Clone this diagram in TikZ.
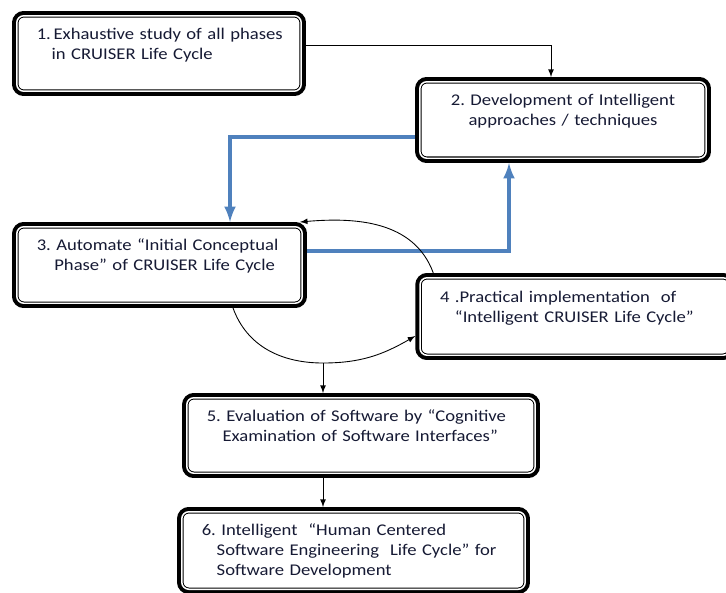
\documentclass[tikz,border=0pt]{standalone}
\usepackage{fontspec}
\setmainfont[FakeStretch=1.14]{Carlito}
\usepackage{tikz}

\definecolor{stepblue}{RGB}{79,129,189}
\definecolor{steptext}{RGB}{22,26,52}
\newcommand{\indline}[1]{\hspace*{#1}}
\frenchspacing

\begin{document}
\begin{tikzpicture}[x=0.02cm,y=-0.02cm,>=latex,
    stepbox/.style={draw,rounded corners=4pt,fill=white,
        preaction={draw,line width=5.4pt},
        line width=0.57pt,double=white,double distance=0.85pt,
        outer sep=2.7pt,inner xsep=0.4cm,inner ysep=0pt,
        font=\fontsize{9.3}{11.4}\selectfont,text=steptext},
    flow/.style={->,line width=0.5pt,black},
    bluflow/.style={->,line width=2pt,stepblue}]
    \useasboundingbox (0,0) rectangle (726,592);

    \node[stepbox,minimum width=5.69cm,minimum height=1.51cm,text width=4.89cm,align=left] (n1) at (159,53.5)
        {\mbox{1.\,Exhaustive study of all phases}\\ \indline{8.5pt}in CRUISER Life Cycle\\ \mbox{}};
    \node[stepbox,minimum width=5.73cm,minimum height=1.53cm,text width=4.93cm,align=center] (n2) at (563,120)
        {2. Development of Intelligent\\ approaches / techniques\\ \mbox{}};
    \node[stepbox,minimum width=5.71cm,minimum height=1.53cm,text width=4.91cm,align=left] (n3) at (159.5,265)
        {3. Automate ``Initial Conceptual\\ \indline{10pt}Phase'' of CRUISER Life Cycle\\ \mbox{}};
    \node[stepbox,minimum width=6.2cm,minimum height=1.55cm,text width=5.4cm,align=left] (n4) at (575,316.5)
        {4 .Practical implementation\ \ of\\ \indline{8.5pt}``Intelligent CRUISER Life Cycle''\\ \mbox{}};
    \node[stepbox,minimum width=6.97cm,minimum height=1.51cm,text width=6.17cm,align=left] (n5) at (361,435.5)
        {5. Evaluation of Software by ``Cognitive\\ \indline{9pt}Examination of Software Interfaces''\\ \mbox{}};
    \node[stepbox,minimum width=6.87cm,minimum height=1.55cm,text width=6.07cm,align=left] (n6) at (353.5,550.5)
        {6. Intelligent\ \ ``Human Centered\\ \indline{8.5pt}Software Engineering\ \ Life Cycle'' for\\ \indline{8.5pt}Software Development};

    \coordinate (loop) at (323,363);

    \draw[flow] (n1.east |- 0,45) -| ([xshift=-0.24cm]n2.north);

    \draw[bluflow] (n2.west |- 0,137) -| (n3.north -| 230,0);
    \draw[bluflow] (n3.east |- 0,251) -| (n2.south -| 509,0);

    \draw[flow] ([xshift=0.36cm]n4.north west) to[out=110,in=5] ([xshift=-0.14cm]n3.north east);
    \draw[flow] (n3.south -| 233,0) to[out=-70,in=180] (loop) to[out=0,in=210] (n4.west |- 0,336);

    \draw[flow] (loop) -- (loop |- n5.north);
    \draw[flow] (n5.south -| loop) -- (n6.north -| loop);
\end{tikzpicture}
\end{document}
